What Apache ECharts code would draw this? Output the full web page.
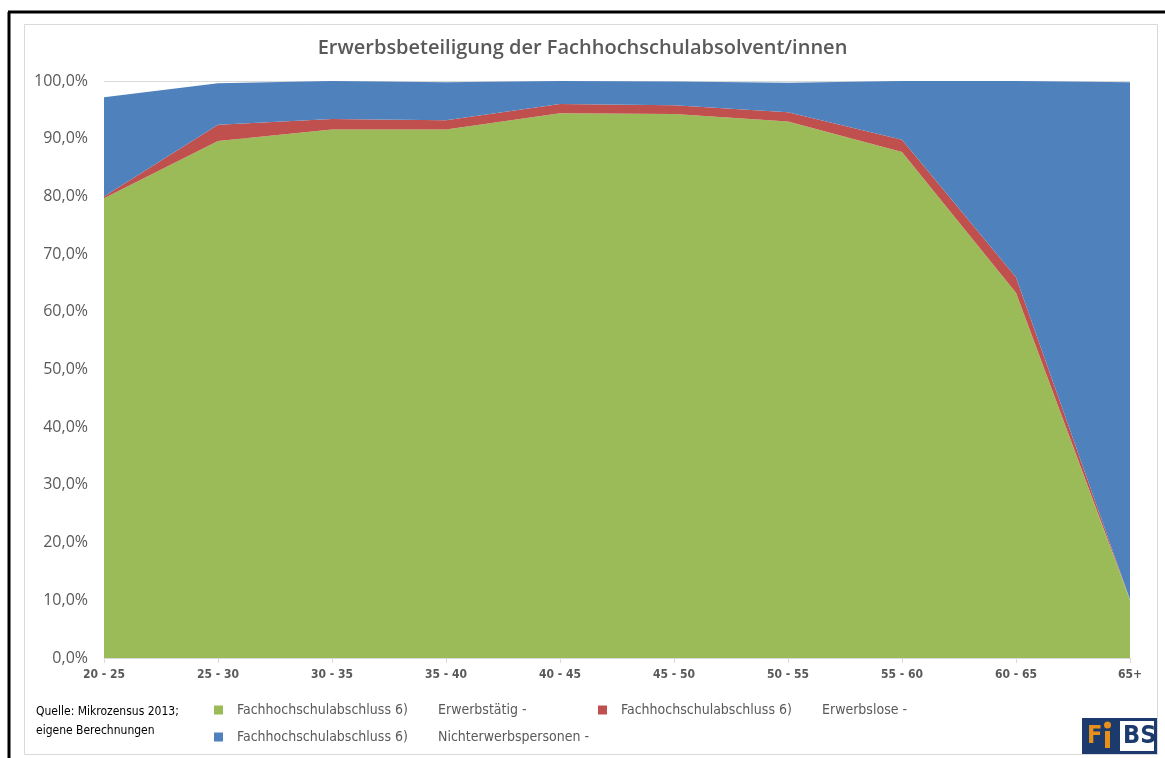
<!DOCTYPE html>
<html>
<head>
<meta charset="utf-8">
<script src="https://cdn.jsdelivr.net/npm/echarts@6/dist/echarts.min.js"></script>
<style>
  html, body { margin: 0; padding: 0; background: #fff; }
  #chart { width: 1165px; height: 758px; }
</style>
</head>
<body>
<div id="chart"></div>
<script>
// Altersgruppen
var categories = ['20 - 25', '25 - 30', '30 - 35', '35 - 40', '40 - 45', '45 - 50', '50 - 55', '55 - 60', '60 - 65', '65+']
// Anteile in % (gestapelt)
var erwerbstaetig = [79.7, 89.6, 91.6, 91.6, 94.4, 94.3, 93.0, 87.7, 63.3, 10.0]
var erwerbslose = [0.3, 2.8, 1.8, 1.6, 1.6, 1.5, 1.6, 2.1, 2.7, 0.1]
var nichterwerb = [17.2, 7.2, 6.6, 6.6, 4.0, 4.1, 5.1, 10.2, 34.0, 89.7]
var yTicks = [0, 10, 20, 30, 40, 50, 60, 70, 80, 90, 100]

var grau = '#595959'
var cond = '"DejaVu Sans Condensed", "DejaVu Sans", sans-serif'

var myChart = echarts.init(document.getElementById('chart'))

function flaeche (name, data, color) {
  return {
    name: name,
    type: 'line',
    stack: 'gesamt',
    data: data,
    showSymbol: false,
    symbol: 'none',
    lineStyle: {width: 0},
    itemStyle: {color: color},
    areaStyle: {color: color, opacity: 1},
    emphasis: {disabled: true}
  }
}

myChart.setOption({
  animation: false,
  title: {
    text: 'Erwerbsbeteiligung der Fachhochschulabsolvent/innen',
    left: 'center',
    top: 33,
    textStyle: {fontFamily: '"Open Sans", sans-serif', fontWeight: 600, fontSize: 20, color: grau}
  },
  grid: {left: 104, right: 35, top: 81, bottom: 100},
  legend: {
    left: 209,
    top: 698,
    width: 800,
    itemWidth: 9,
    itemHeight: 9,
    itemGap: 13,
    icon: 'rect',
    data: ['Erwerbstätig', 'Erwerbslose', 'Nichterwerbspersonen'],
    formatter: function (name) {
      return '{a|Fachhochschulabschluss 6)}{b|' + name + ' -}'
    },
    textStyle: {
      rich: {
        a: {fontFamily: cond, fontSize: 14, color: grau, width: 201, lineHeight: 14, padding: [0, 0, 0, 9]},
        b: {fontFamily: cond, fontSize: 14, color: grau, width: 147, lineHeight: 14}
      }
    }
  },
  xAxis: {
    type: 'category',
    boundaryGap: false,
    data: categories,
    axisLine: {lineStyle: {color: '#d9d9d9'}},
    axisTick: {show: true, length: 5, lineStyle: {color: '#d9d9d9'}},
    axisLabel: {color: grau, fontFamily: cond, fontWeight: 'bold', fontSize: 12, margin: 11, interval: 0}
  },
  yAxis: {
    type: 'value',
    min: yTicks[0],
    max: yTicks[yTicks.length - 1],
    interval: 10,
    axisLine: {show: false},
    axisTick: {show: false},
    splitLine: {lineStyle: {color: '#d9d9d9'}},
    axisLabel: {
      color: grau,
      fontFamily: '"Open Sans", sans-serif',
      fontSize: 16,
      margin: 16,
      formatter: function (v) { return v.toFixed(1).replace('.', ',') + '%' }
    }
  },
  series: [
    flaeche('Erwerbstätig', erwerbstaetig, '#9bbb59'),
    flaeche('Erwerbslose', erwerbslose, '#c0504d'),
    flaeche('Nichterwerbspersonen', nichterwerb, '#4f81bd')
  ],
  graphic: [
    // Rahmen
    {type: 'line', shape: {x1: 8, y1: 12, x2: 1165, y2: 12}, style: {stroke: '#000', lineWidth: 3}},
    {type: 'line', shape: {x1: 9, y1: 12, x2: 9, y2: 758}, style: {stroke: '#000', lineWidth: 3}},
    {type: 'rect', shape: {x: 24.5, y: 24.5, width: 1133, height: 730}, style: {fill: 'none', stroke: '#d9d9d9', lineWidth: 1}},
    // Quelle
    {type: 'text', left: 36, top: 706, style: {text: 'Quelle: Mikrozensus 2013;', font: '12px ' + cond, fill: '#000'}},
    {type: 'text', left: 36, top: 725, style: {text: 'eigene Berechnungen', font: '12px ' + cond, fill: '#000'}},
    // Logo
    {type: 'rect', shape: {x: 1082, y: 718, width: 75, height: 36}, style: {fill: '#1c3a6b'}},
    {type: 'rect', shape: {x: 1120, y: 721, width: 34, height: 30}, style: {fill: '#fff'}},
    {type: 'text', left: 1087, top: 724, style: {text: 'F', font: 'bold 25px ' + cond, fill: '#e8901c'}},
    {type: 'rect', shape: {x: 1105, y: 731, width: 5, height: 17}, style: {fill: '#e8901c'}},
    {type: 'circle', shape: {cx: 1107.5, cy: 725, r: 3.5}, style: {fill: '#e8901c'}},
    {type: 'text', left: 1123, top: 724, style: {text: 'BS', font: 'bold 25px ' + cond, fill: '#1c3a6b'}}
  ]
})
</script>
</body>
</html>
